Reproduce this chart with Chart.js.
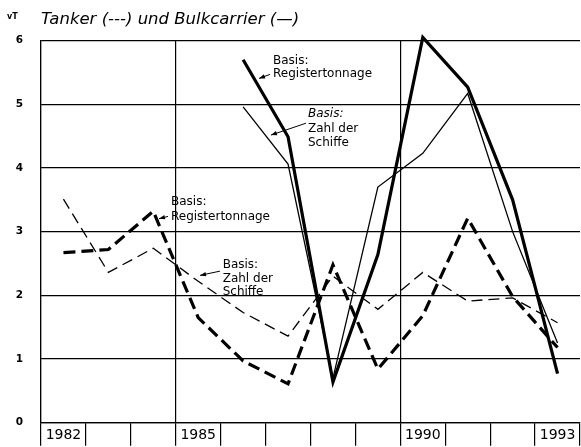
<!DOCTYPE html>
<html>
<head>
<meta charset="utf-8">
<script src="https://cdn.jsdelivr.net/npm/chart.js@4/dist/chart.umd.min.js"></script>
<style>
  html, body { margin: 0; padding: 0; background: #fff; overflow: hidden; }
  #wrap { width: 581px; height: 447px; position: relative; }
</style>
</head>
<body>
<div id="wrap"><canvas id="chart"></canvas></div>
<script>
/* =====================================
   DATA
===================================== */

const years = ["1982", "1983", "1984", "1985", "1986", "1987",
               "1988", "1989", "1990", "1991", "1992", "1993"];

const shownYears = ["1982", "1985", "1990", "1993"];

const panelYears = ["1982", "1985", "1990"];

// Bulkcarrier (solid)
const bulkTonnage = [null, null, null, null, 5.70, 4.49, 0.64, 2.64, 6.05, 5.27, 3.50, 0.77];
const bulkShips   = [null, null, null, null, 4.96, 4.06, 0.70, 3.70, 4.23, 5.17, 3.00, 1.25];

// Tanker (dashed)
const tankerTonnage = [2.67, 2.72, 3.32, 1.65, 0.97, 0.61, 2.48, 0.84, 1.68, 3.21, 1.98, 1.18];
const tankerShips   = [3.51, 2.36, 2.74, 2.22, 1.73, 1.36, 2.30, 1.78, 2.36, 1.91, 1.96, 1.57];

const yTicks = [0, 1, 2, 3, 4, 5, 6];

const titleText = "Tanker (---) und Bulkcarrier (\u2014)";
const unitText = "vT";

/* =====================================
   NOTES (text in data coordinates)
===================================== */

const notes = [
    {
        at: [4.665, 5.625], gap: 13,
        lines: ["Basis:", "Registertonnage"], italic: [false, false],
        from: [4.598, 5.469], to: [4.353, 5.406]
    },
    {
        at: [5.444, 4.797], gap: 14.5,
        lines: ["Basis:", "Zahl der", "Schiffe"], italic: [true, false, false],
        from: [5.399, 4.703], to: [4.620, 4.516]
    },
    {
        at: [2.394, 3.414], gap: 15,
        lines: ["Basis:", "Registertonnage"], italic: [false, false],
        from: [2.327, 3.239], to: [2.127, 3.203]
    },
    {
        at: [3.545, 2.425], gap: 13.5,
        lines: ["Basis:", "Zahl der", "Schiffe"], italic: [false, false, false],
        from: [3.485, 2.380], to: [3.040, 2.313]
    }
];

const FONT = "DejaVu Sans";

/* =====================================
   PLUGIN: notes, arrows, unit
===================================== */

const notesPlugin = {
    id: "notesPlugin",
    afterDatasetsDraw(chart) {
        const { ctx, scales: { x, y }, chartArea } = chart;
        ctx.save();
        ctx.fillStyle = "#000";
        ctx.strokeStyle = "#000";
        ctx.textBaseline = "alphabetic";
        ctx.textAlign = "left";

        notes.forEach(n => {
            const tx = x.getPixelForValue(n.at[0]);
            const ty = y.getPixelForValue(n.at[1]);
            n.lines.forEach((t, i) => {
                ctx.font = (n.italic[i] ? "italic " : "") + "12px '" + FONT + "'";
                ctx.fillText(t, tx, ty + i * n.gap);
            });

            const x1 = x.getPixelForValue(n.from[0]);
            const y1 = y.getPixelForValue(n.from[1]);
            const x2 = x.getPixelForValue(n.to[0]);
            const y2 = y.getPixelForValue(n.to[1]);
            const a = Math.atan2(y2 - y1, x2 - x1);
            ctx.lineWidth = 1;
            ctx.beginPath();
            ctx.moveTo(x1, y1);
            ctx.lineTo(x2, y2);
            ctx.stroke();
            ctx.beginPath();
            ctx.moveTo(x2, y2);
            ctx.lineTo(x2 - 6 * Math.cos(a) + 2.2 * Math.sin(a), y2 - 6 * Math.sin(a) - 2.2 * Math.cos(a));
            ctx.lineTo(x2 - 6 * Math.cos(a) - 2.2 * Math.sin(a), y2 - 6 * Math.sin(a) + 2.2 * Math.cos(a));
            ctx.closePath();
            ctx.fill();
        });

        // unit above the y axis
        ctx.font = "bold 8px '" + FONT + "'";
        ctx.fillText(unitText, chartArea.left - 34, chartArea.top - 22);
        ctx.restore();
    }
};

/* =====================================
   CHART
===================================== */

function line(data, width, dash) {
    return {
        data: data,
        borderColor: "#000",
        borderWidth: width,
        borderDash: dash,
        borderJoinStyle: "miter",
        pointRadius: 0,
        tension: 0,
        fill: false,
        clip: false
    };
}

new Chart(document.getElementById("chart"), {
    type: "line",
    data: {
        labels: years,
        datasets: [
            line(bulkTonnage, 3.2, []),
            line(bulkShips, 1.3, []),
            line(tankerTonnage, 3.2, [12, 6]),
            line(tankerShips, 1.3, [11, 6])
        ]
    },
    options: {
        responsive: true,
        maintainAspectRatio: false,
        animation: false,
        events: [],
        layout: { padding: { right: 1 } },
        plugins: {
            legend: { display: false },
            tooltip: { enabled: false },
            title: {
                display: true,
                text: titleText,
                align: "start",
                fullSize: false,
                color: "#000",
                font: { family: FONT, size: 16.5, style: "italic", weight: "normal" },
                padding: { top: 10, bottom: 10.8 }
            }
        },
        scales: {
            x: {
                type: "category",
                offset: true,
                grid: {
                    offset: true,
                    color: c => (c.index === years.length || panelYears.includes(years[c.index])) ? "#000" : "rgba(0,0,0,0)",
                    tickColor: "#000",
                    tickLength: 23,
                    lineWidth: 1.2,
                    tickWidth: 1.2
                },
                border: { color: "#000", width: 1.2 },
                ticks: {
                    color: "#000",
                    font: { family: FONT, size: 14 },
                    padding: -18.5,
                    autoSkip: false,
                    maxRotation: 0,
                    callback: (v, i) => shownYears.includes(years[i]) ? years[i] : ""
                },
                afterFit(s) { s.height = 23; }
            },
            y: {
                min: yTicks[0],
                max: yTicks[yTicks.length - 1],
                afterBuildTicks(s) { s.ticks = yTicks.map(v => ({ value: v })); },
                grid: { color: "#000", lineWidth: 1.2, drawTicks: false },
                border: { color: "#000", width: 1.2 },
                ticks: {
                    color: "#000",
                    font: { family: FONT, size: 10.5, weight: "bold" },
                    padding: 18
                },
                afterFit(s) { s.width = 41; }
            }
        }
    },
    plugins: [notesPlugin]
});
</script>
</body>
</html>
